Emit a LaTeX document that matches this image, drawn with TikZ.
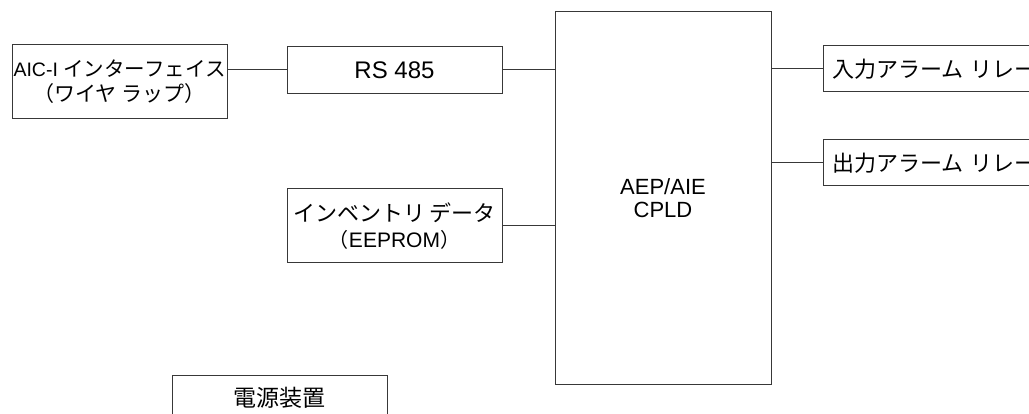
\documentclass[tikz,border=0pt]{standalone}
\usepackage{fontspec}
\setmainfont{Liberation Sans}
\newfontfamily\jpfont{Noto Sans CJK JP}
\newcommand{\jp}[2][22]{{\fontsize{#1}{23}\jpfont #2}}
\begin{document}
\begin{tikzpicture}[x=1pt,y=-1pt,
  box/.style={draw=black!78, line width=1pt, rectangle, inner sep=0pt, align=center,
    font=\fontsize{22}{23}\selectfont},
  relay/.style={box, minimum height=46pt, text width=199pt, inner xsep=9pt, align=left},
  wire/.style={draw=black!78, line width=1pt}]
\clip (0,0) rectangle (1029,414);
\fill[white] (0,0) rectangle (1029,414);
\node[box, minimum width=215pt, minimum height=74pt] (aic) at (119.5,82)
  {{\fontsize{19.5}{23}\selectfont AIC-I }\jp[20.5]{インターフェイス}\\[2pt]\jp[21]{（ワイヤ ラップ）}};
\node[box, minimum width=215pt, minimum height=47pt, font=\fontsize{24}{26}\selectfont] (rs) at (394.5,70) {RS 485};
\node[box, minimum width=216pt, minimum height=372pt] (cpld) at (663,198) {AEP/AIE\\CPLD};
\node[relay] (inp) at (931.5,69) {\mbox{\jp{入力アラーム リレー}}};
\node[relay] (outp) at (931.5,163) {\mbox{\jp{出力アラーム リレー}}};
\node[box, minimum width=215pt, minimum height=74pt, font=\fontsize{21}{26}\selectfont] (inv) at (394.5,226)
  {\jp{インベントリ データ}\\\jp[20]{（}EEPROM\jp[20]{）}};
\node[box, minimum width=215pt, minimum height=46pt] (pwr) at (279.5,398) {\jp[23]{電源装置}};
\draw[wire] (aic.east |- rs.west) -- (rs.west);
\draw[wire] (rs.east) -- (rs.east -| cpld.west);
\draw[wire] (inv.east) -- (inv.east -| cpld.west);
\draw[wire] (inp.west -| cpld.east) -- (inp.west);
\draw[wire] (outp.west -| cpld.east) -- (outp.west);
\end{tikzpicture}
\end{document}
